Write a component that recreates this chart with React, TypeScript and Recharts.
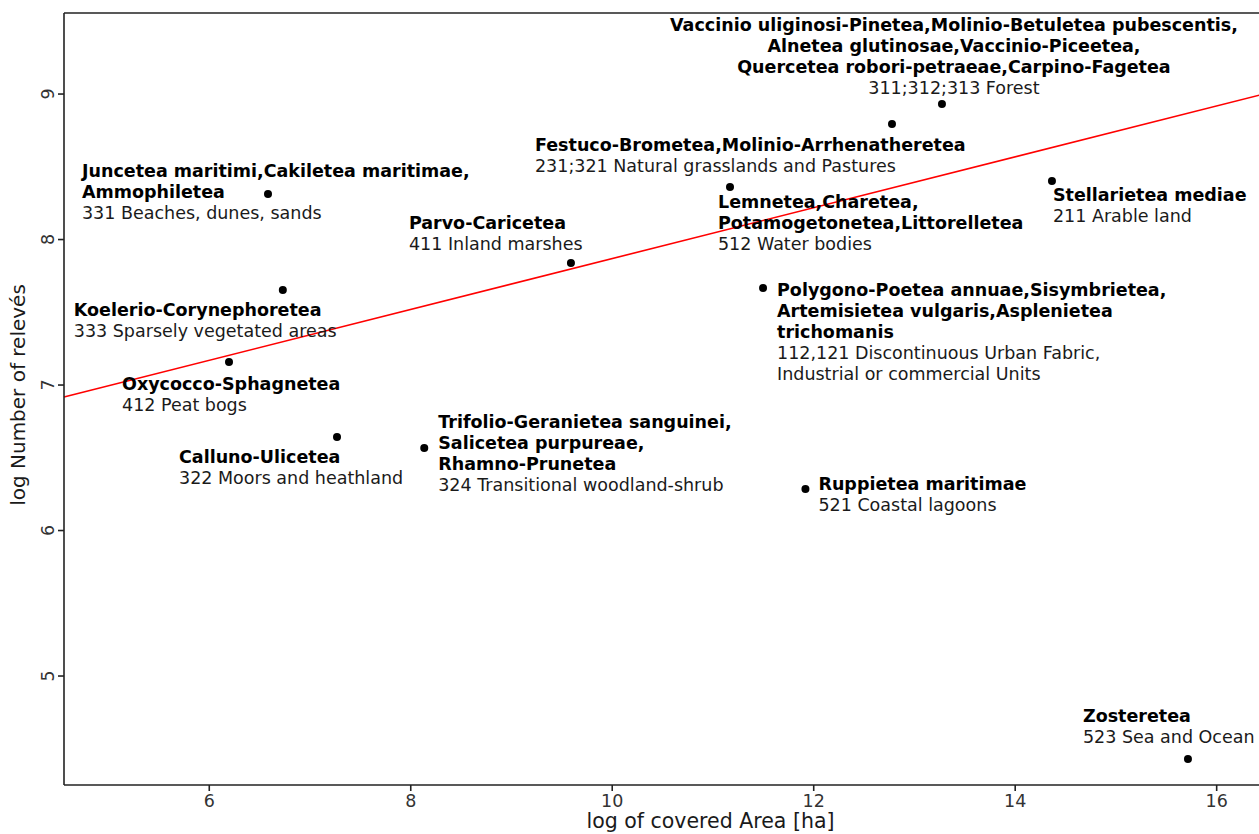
import { ReferenceLine, Scatter, ScatterChart, XAxis, YAxis } from 'recharts'

// Phytosociological classes (bold lines) per land cover type
const syntaxa: string[][] = [
  ['Juncetea maritimi,Cakiletea maritimae,', 'Ammophiletea'],
  ['Koelerio-Corynephoretea'],
  ['Oxycocco-Sphagnetea'],
  ['Calluno-Ulicetea'],
  ['Trifolio-Geranietea sanguinei,', 'Salicetea purpureae,', 'Rhamno-Prunetea'],
  ['Parvo-Caricetea'],
  ['Lemnetea,Charetea,', 'Potamogetonetea,Littorelletea'],
  ['Polygono-Poetea annuae,Sisymbrietea,', 'Artemisietea vulgaris,Asplenietea', 'trichomanis'],
  ['Festuco-Brometea,Molinio-Arrhenatheretea'],
  [
    'Vaccinio uliginosi-Pinetea,Molinio-Betuletea pubescentis,',
    'Alnetea glutinosae,Vaccinio-Piceetea,',
    'Quercetea robori-petraeae,Carpino-Fagetea',
  ],
  ['Stellarietea mediae'],
  ['Ruppietea maritimae'],
  ['Zosteretea'],
]

// CORINE land cover codes (normal lines)
const landCover: string[][] = [
  ['331 Beaches, dunes, sands'],
  ['333 Sparsely vegetated areas'],
  ['412 Peat bogs'],
  ['322 Moors and heathland'],
  ['324 Transitional woodland-shrub'],
  ['411 Inland marshes'],
  ['512 Water bodies'],
  ['112,121 Discontinuous Urban Fabric,', 'Industrial or commercial Units'],
  ['231;321 Natural grasslands and Pastures'],
  ['311;312;313 Forest'],
  ['211 Arable land'],
  ['521 Coastal lagoons'],
  ['523 Sea and Ocean'],
]

const logArea = [6.583, 6.73, 6.196, 7.268, 8.134, 9.59, 11.169, 11.497, 12.777, 13.273, 14.365, 11.918, 15.715]
const logReleves = [8.313, 7.653, 7.158, 6.643, 6.567, 7.838, 8.361, 7.667, 8.794, 8.931, 8.402, 6.285, 4.43]

// linear fit, end points at the plot edges
const fitX = [4.558, 16.44]
const fitY = [6.918, 8.995]

const xTicks = [6, 8, 10, 12, 14, 16]
const yTicks = [5, 6, 7, 8, 9]
const xDomain: [number, number] = [4.558, 16.44]
const yDomain: [number, number] = [4.251, 9.557]

// label placement relative to each dot (px to first baseline)
const labelOffsets: { dx: number; dy: number; anchor?: 'start' | 'middle' }[] = [
  { dx: -186, dy: -17 },
  { dx: -209, dy: 26 },
  { dx: -107, dy: 28 },
  { dx: -158, dy: 26 },
  { dx: 14, dy: -20 },
  { dx: -162, dy: -34 },
  { dx: -12, dy: 21 },
  { dx: 14, dy: 8 },
  { dx: -357, dy: 27 },
  { dx: 12, dy: -73, anchor: 'middle' },
  { dx: 1, dy: 20 },
  { dx: 13, dy: 1 },
  { dx: -105, dy: -37 },
]

const FONT = '"DejaVu Sans", sans-serif'
const LINE_H = 20.9

const points = logArea.map((x, i) => ({ x, y: logReleves[i], idx: i }))

const PointWithLabel = (props: any) => {
  const { cx, cy, payload } = props
  if (cx == null || cy == null) return null
  const i = payload.idx
  const off = labelOffsets[i]
  const lx = cx + off.dx
  const anchor = off.anchor ?? 'start'
  const lines = [
    ...syntaxa[i].map(t => ({ t, bold: true })),
    ...landCover[i].map(t => ({ t, bold: false })),
  ]
  return (
    <g>
      <circle cx={cx} cy={cy} r={4} fill="#000" />
      {lines.map((l, k) => (
        <text
          key={k}
          x={lx}
          y={cy + off.dy + k * LINE_H}
          textAnchor={anchor}
          fontFamily={FONT}
          fontSize={17.5}
          fontWeight={l.bold ? 'bold' : 'normal'}
          fill={l.bold ? '#000' : '#1a1a1a'}
        >
          {l.t}
        </text>
      ))}
    </g>
  )
}

const YTick = (props: any) => {
  const { x, y, payload } = props
  const tx = x - 8
  return (
    <text
      x={tx}
      y={y}
      transform={`rotate(-90, ${tx}, ${y})`}
      textAnchor="middle"
      dominantBaseline="central"
      fontFamily={FONT}
      fontSize={17.5}
      fill="#333"
    >
      {payload.value}
    </text>
  )
}

export default function App() {
  return (
    <div
      style={{
        position: 'fixed',
        top: 0,
        left: 0,
        width: 1259,
        height: 834,
        overflow: 'hidden',
        background: '#fff',
      }}
    >
      <ScatterChart width={1270} height={834} margin={{ top: 13, right: 9, left: 0, bottom: 0 }}>
        <XAxis
          type="number"
          dataKey="x"
          domain={xDomain}
          ticks={xTicks}
          allowDataOverflow
          height={49}
          stroke="#222"
          strokeWidth={1.6}
          tickSize={6}
          tickMargin={4}
          tick={{ fill: '#333', fontSize: 17.5, fontFamily: FONT }}
          label={(p: any) => {
            const vb = p.viewBox
            return (
              <text
                x={vb.x + vb.width / 2 + 48}
                y={vb.y + 43}
                textAnchor="middle"
                fontFamily={FONT}
                fontSize={20.5}
                fill="#1a1a1a"
              >
                log of covered Area [ha]
              </text>
            )
          }}
        />
        <YAxis
          type="number"
          dataKey="y"
          domain={yDomain}
          ticks={yTicks}
          allowDataOverflow
          width={64}
          stroke="#222"
          strokeWidth={1.6}
          tickSize={6}
          tick={<YTick />}
          label={(p: any) => {
            const vb = p.viewBox
            const cx = 18
            const cy = vb.y + vb.height / 2 - 4
            return (
              <text
                x={cx}
                y={cy}
                transform={`rotate(-90, ${cx}, ${cy})`}
                textAnchor="middle"
                dominantBaseline="central"
                fontFamily={FONT}
                fontSize={20}
                fill="#1a1a1a"
              >
                log Number of relevés
              </text>
            )
          }}
        />
        <ReferenceLine y={yDomain[1]} stroke="#222" strokeWidth={1.6} />
        <ReferenceLine
          segment={[
            { x: fitX[0], y: fitY[0] },
            { x: fitX[1], y: fitY[1] },
          ]}
          stroke="#ff0000"
          strokeWidth={1.6}
          ifOverflow="visible"
        />
        <Scatter data={points} shape={PointWithLabel} isAnimationActive={false} />
      </ScatterChart>
    </div>
  )
}
